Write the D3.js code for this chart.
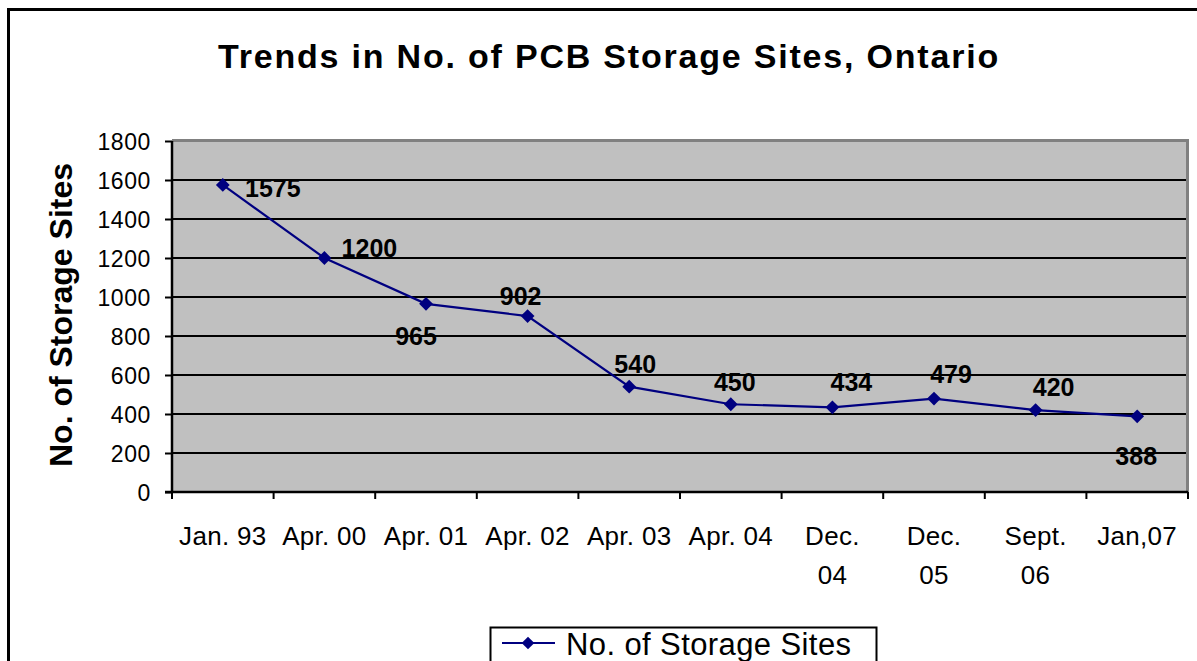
<!DOCTYPE html>
<html><head><meta charset="utf-8">
<script src="https://cdn.jsdelivr.net/npm/d3@7"></script>
<style>html,body{margin:0;padding:0;background:#fff;overflow:hidden}svg{display:block}text{font-family:Arial,"Liberation Sans",sans-serif}</style>
</head><body>
<script>
const categories = ["Jan. 93","Apr. 00","Apr. 01","Apr. 02","Apr. 03","Apr. 04","Dec. 04","Dec. 05","Sept. 06","Jan,07"];
const categoryLines = [["Jan. 93"],["Apr. 00"],["Apr. 01"],["Apr. 02"],["Apr. 03"],["Apr. 04"],["Dec.","04"],["Dec.","05"],["Sept.","06"],["Jan,07"]];
const storageSites = [1575,1200,965,902,540,450,434,479,420,388];
const yTicks = [0,200,400,600,800,1000,1200,1400,1600,1800];
const seriesName = "No. of Storage Sites";
const titleText = "Trends in No. of PCB Storage Sites, Ontario";
const yTitle = "No. of Storage Sites";

const W = 1197, H = 661;
const svg = d3.select("body").append("svg").attr("width", W).attr("height", H);

// outer frame
svg.append("rect").attr("x", 8.5).attr("y", 9.5).attr("width", 1250).attr("height", 700)
  .attr("fill", "#fff").attr("stroke", "#000").attr("stroke-width", 3);

const L = 172, R = 1188, T = 141, B = 492;
const x = d3.scaleBand().domain(categories).range([L, R]);
const y = d3.scaleLinear().domain([0, 1800]).range([B, T]);

// plot area
svg.append("rect").attr("x", L).attr("y", T).attr("width", R - L).attr("height", B - T).attr("fill", "#c0c0c0");
svg.append("path").attr("d", `M${L},${T - 0.5}H${R - 0.5}V${B}`).attr("fill", "none").attr("stroke", "#808080").attr("stroke-width", 3);

// gridlines
svg.append("g").selectAll("line").data(yTicks.filter(d => d > 0 && d < 1800)).join("line")
  .attr("x1", L).attr("x2", R - 2).attr("y1", d => Math.round(y(d))).attr("y2", d => Math.round(y(d)))
  .attr("stroke", "#000").attr("stroke-width", 2);

// y axis
const yAxis = d3.axisLeft(y).tickValues(yTicks).tickSize(7).tickPadding(14).tickFormat(d3.format("d"));
const gy = svg.append("g").attr("transform", `translate(${L},0)`).call(yAxis);
gy.select(".domain").attr("stroke", "#000").attr("stroke-width", 2.5).attr("d", `M0,${T}V${B}`);
gy.selectAll(".tick line").attr("stroke", "#000").attr("stroke-width", 2);
gy.selectAll(".tick text").attr("font-size", 23).attr("fill", "#000").attr("letter-spacing", 0.6).attr("dy", "0.36em");

// x axis
const gx = svg.append("g").attr("transform", `translate(0,${B})`);
gx.append("line").attr("x1", L - 7).attr("x2", R).attr("y1", 0).attr("y2", 0).attr("stroke", "#000").attr("stroke-width", 2.5);
const bounds = categories.map(c => x(c)).concat([R]);
gx.selectAll("line.tk").data(bounds).join("line").attr("class", "tk")
  .attr("x1", d => d).attr("x2", d => d).attr("y1", 0).attr("y2", 7).attr("stroke", "#000").attr("stroke-width", 2);
gx.selectAll("text.xl").data(categories).join("text").attr("class", "xl")
  .attr("x", d => x(d) + x.bandwidth() / 2).attr("y", 53).attr("text-anchor", "middle")
  .attr("font-size", 26).attr("letter-spacing", 0.3).attr("fill", "#000")
  .each(function(d, i) {
    const t = d3.select(this);
    categoryLines[i].forEach((ln, j) => t.append("tspan").attr("x", x(d) + x.bandwidth() / 2).attr("dy", j === 0 ? 0 : 39).text(ln));
  });

// line
const cx = d => x(d) + x.bandwidth() / 2;
const line = d3.line().x((d, i) => cx(categories[i])).y(d => y(d));
svg.append("path").datum(storageSites).attr("d", line).attr("fill", "none").attr("stroke", "#000080").attr("stroke-width", 2.2);

svg.append("g").selectAll("path").data(storageSites).join("path")
  .attr("transform", (d, i) => `translate(${cx(categories[i])},${y(d)}) rotate(45)`)
  .attr("d", d3.symbol().type(d3.symbolSquare).size(95)).attr("fill", "#000080");

// data labels (label nudges relative to each marker, in px)
const labelNudge = [[50, 12], [45, -1], [-10, 41], [-7, -11], [6, -14], [4, -13], [19, -16], [17, -16], [18, -14], [-1, 49]];
svg.append("g").selectAll("text").data(storageSites).join("text")
  .attr("x", (d, i) => cx(categories[i]) + labelNudge[i][0])
  .attr("y", (d, i) => y(d) + labelNudge[i][1])
  .attr("text-anchor", "middle").attr("font-size", 25).attr("font-weight", "bold").attr("fill", "#000")
  .text(d => d);

// title
svg.append("text").attr("x", 609).attr("y", 68).attr("text-anchor", "middle").attr("font-size", 34)
  .attr("letter-spacing", 1.8).attr("font-weight", "bold").text(titleText);

// y title
svg.append("text").attr("transform", "translate(72,315) rotate(-90)").attr("text-anchor", "middle")
  .attr("font-size", 32).attr("font-weight", "bold").text(yTitle);

// legend
const lg = svg.append("g");
lg.append("rect").attr("x", 490.5).attr("y", 627.5).attr("width", 386).attr("height", 60).attr("fill", "#fff").attr("stroke", "#000").attr("stroke-width", 2);
lg.append("line").attr("x1", 502).attr("x2", 555).attr("y1", 643).attr("y2", 643).attr("stroke", "#000080").attr("stroke-width", 2.2);
lg.append("path").attr("transform", "translate(528,643) rotate(45)").attr("d", d3.symbol().type(d3.symbolSquare).size(80)).attr("fill", "#000080");
lg.append("text").attr("x", 566).attr("y", 655).attr("font-size", 31).attr("letter-spacing", 0.4).text(seriesName);
</script>
</body></html>
